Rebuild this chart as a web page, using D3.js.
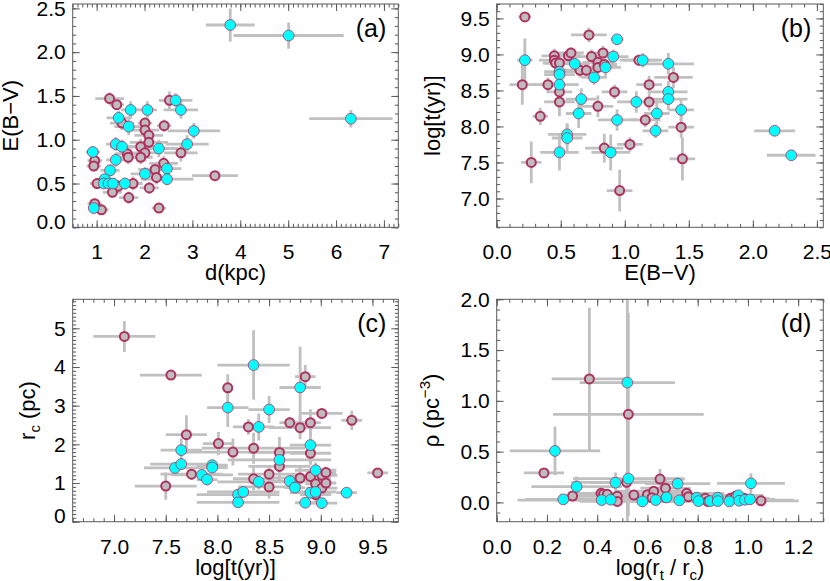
<!DOCTYPE html>
<html><head><meta charset="utf-8">
<script src="https://cdn.jsdelivr.net/npm/d3@7"></script>
<style>
body{margin:0;background:#fff}
svg text{font-family:"Liberation Sans",Arial,Helvetica,sans-serif;fill:#000}
</style>
</head><body>
<svg id="chart" width="830" height="581"></svg>
<script>
// ---------- DATA: [x, y, xErr, yErr] ----------
// (a) d(kpc) vs E(B-V)
const aOpen = [
 [1.27,1.47,0.30,0.07],[1.42,1.40,0.15,0.06],[2.52,1.45,0.20,0.10],[1.53,1.19,0.25,0.08],
 [2.01,1.19,0.15,0.06],[2.01,1.11,0.30,0.10],[2.41,1.16,0.15,0.07],[2.09,1.05,0.30,0.08],
 [2.09,0.97,0.40,0.10],[1.92,0.92,0.30,0.09],[2.01,0.85,0.30,0.10],[2.76,0.85,0.35,0.10],
 [1.64,0.84,0.25,0.10],[1.66,0.80,0.20,0.08],[1.92,0.80,0.25,0.08],[0.96,0.76,0.15,0.06],
 [0.94,0.70,0.15,0.06],[2.40,0.73,0.30,0.08],[2.22,0.66,0.35,0.08],[2.25,0.57,0.25,0.08],
 [1.01,0.50,0.15,0.06],[1.45,0.47,0.20,0.07],[1.33,0.40,0.20,0.06],[1.76,0.50,0.20,0.08],
 [2.10,0.45,0.20,0.07],[1.67,0.34,0.20,0.07],[0.96,0.27,0.15,0.06],[1.10,0.20,0.15,0.05],
 [2.30,0.22,0.15,0.04],[3.47,0.59,0.48,0.05]
];
const aFilled = [
 [3.79,2.31,0.51,0.19],[5.01,2.19,1.15,0.15],[6.31,1.24,0.87,0.10],[2.65,1.45,0.35,0.08],
 [2.76,1.34,0.36,0.10],[1.71,1.34,0.20,0.10],[2.06,1.34,0.20,0.10],[1.46,1.25,0.25,0.08],
 [1.67,1.15,0.30,0.10],[3.03,1.10,0.55,0.09],[1.40,0.95,0.20,0.08],[1.53,0.92,0.25,0.08],
 [2.30,0.90,0.40,0.10],[2.89,0.95,0.45,0.10],[0.92,0.86,0.15,0.06],[1.40,0.77,0.20,0.08],
 [2.47,0.67,0.30,0.08],[1.28,0.65,0.20,0.07],[2.01,0.61,0.30,0.08],[2.47,0.55,0.55,0.07],
 [1.17,0.55,0.15,0.06],[1.15,0.50,0.15,0.06],[1.25,0.50,0.15,0.06],[1.34,0.50,0.20,0.06],
 [1.59,0.50,0.25,0.07],[0.94,0.22,0.10,0.05]
];
// (b) E(B-V) vs log t
const bOpen = [
 [0.22,9.52,0.05,0.06],[0.72,9.27,0.14,0.10],[0.45,8.98,0.10,0.10],[0.45,8.92,0.12,0.10],
 [0.46,8.88,0.10,0.15],[0.49,8.88,0.12,0.10],[0.56,8.98,0.10,0.10],[0.58,9.02,0.10,0.08],
 [0.74,8.97,0.15,0.10],[0.83,9.02,0.12,0.10],[0.79,8.89,0.12,0.10],[0.79,8.82,0.12,0.10],
 [0.84,8.86,0.10,0.10],[0.65,8.78,0.12,0.10],[0.70,8.78,0.12,0.10],[1.11,8.92,0.15,0.08],
 [1.38,8.68,0.15,0.15],[0.20,8.58,0.10,0.28],[0.40,8.58,0.12,0.10],[0.49,8.48,0.10,0.15],
 [0.49,8.34,0.12,0.20],[0.92,8.48,0.10,0.10],[1.19,8.58,0.10,0.12],[1.19,8.34,0.12,0.12],
 [0.79,8.28,0.12,0.15],[0.34,8.14,0.06,0.12],[1.16,8.09,0.12,0.10],[1.44,7.99,0.10,0.15],
 [1.04,7.75,0.10,0.10],[0.84,7.70,0.15,0.20],[0.27,7.50,0.08,0.29],[1.45,7.55,0.10,0.30],
 [0.96,7.11,0.10,0.29]
];
const bFilled = [
 [0.94,9.21,0.05,0.05],[0.22,8.92,0.06,0.30],[0.61,8.87,0.12,0.10],[0.91,8.97,0.12,0.10],
 [0.85,8.82,0.12,0.12],[0.49,8.76,0.12,0.10],[0.49,8.72,0.12,0.10],[0.76,8.68,0.10,0.10],
 [1.14,8.92,0.15,0.10],[1.34,8.87,0.20,0.15],[0.49,8.58,0.15,0.20],[1.34,8.48,0.15,0.15],
 [1.34,8.38,0.15,0.15],[0.66,8.38,0.12,0.15],[1.09,8.34,0.15,0.15],[0.64,8.18,0.10,0.20],
 [1.25,8.18,0.10,0.20],[1.44,8.23,0.10,0.15],[0.94,8.09,0.15,0.15],[1.24,7.94,0.10,0.10],
 [0.55,7.89,0.15,0.15],[0.55,7.84,0.12,0.20],[0.89,7.64,0.15,0.25],[0.49,7.64,0.15,0.25],
 [2.17,7.94,0.16,0.07],[2.30,7.60,0.19,0.07]
];
// (c) log t vs r_c
const cOpen = [
 [7.10,4.79,0.30,0.40],[7.55,3.79,0.30,0.12],[8.85,3.75,0.10,0.30],[8.10,3.46,0.05,0.35],
 [9.01,2.80,0.20,0.10],[9.30,2.62,0.10,0.25],[8.70,2.56,0.10,0.15],[8.90,2.56,0.10,0.35],
 [8.80,2.43,0.30,0.30],[8.30,2.45,0.15,0.20],[7.70,2.25,0.20,0.50],[8.01,2.02,0.15,0.30],
 [8.35,1.90,0.50,0.40],[8.15,1.80,0.45,0.35],[8.60,1.79,0.30,0.40],[8.90,1.77,0.20,0.30],
 [8.60,1.43,0.30,0.35],[7.75,1.23,0.30,0.15],[8.50,1.23,0.30,0.20],[8.35,1.11,0.20,0.30],
 [8.50,0.90,0.30,0.30],[7.50,0.92,0.30,0.35],[8.80,1.13,0.30,0.30],[8.90,1.17,0.20,0.20],
 [9.01,1.20,0.15,0.15],[9.05,1.27,0.10,0.15],[8.95,0.98,0.10,0.15],[9.01,0.87,0.15,0.15],
 [9.05,1.00,0.10,0.10],[8.95,0.70,0.15,0.20],[9.55,1.26,0.10,0.10]
];
const cFilled = [
 [8.35,4.05,0.35,0.90],[8.80,3.47,0.20,1.05],[8.10,2.95,0.20,0.50],[8.50,2.90,0.20,0.35],
 [8.40,2.45,0.15,0.35],[8.90,1.98,0.20,0.50],[7.65,1.85,0.20,0.30],[8.60,1.60,0.50,0.30],
 [7.59,1.39,0.30,0.15],[7.65,1.49,0.30,0.15],[7.95,1.46,0.15,0.15],[7.95,1.40,0.15,0.15],
 [7.85,1.21,0.30,0.10],[7.90,1.09,0.10,0.15],[8.40,1.03,0.40,0.20],[8.70,1.05,0.20,0.20],
 [8.75,0.88,0.10,0.10],[8.95,1.33,0.20,0.20],[8.90,0.75,0.20,0.15],[8.95,0.77,0.20,0.15],
 [8.85,0.49,0.10,0.10],[9.01,0.48,0.15,0.10],[9.25,0.75,0.10,0.05],[8.20,0.70,0.40,0.15],
 [8.25,0.77,0.35,0.15],[8.20,0.50,0.40,0.10]
];
// (d) log(rt/rc) vs rho
const dOpen = [
 [0.369,1.216,0.15,0.70],[0.524,0.867,0.30,1.00],[0.188,0.290,0.08,0.05],[0.517,0.198,0.22,0.10],
 [0.650,0.230,0.10,0.10],[0.672,0.140,0.10,0.08],[0.302,0.063,0.05,0.03],[0.415,0.089,0.10,0.03],
 [0.425,0.082,0.10,0.03],[0.440,0.080,0.15,0.03],[0.480,0.060,0.20,0.03],[0.480,0.010,0.15,0.02],
 [0.546,0.072,0.20,0.03],[0.600,0.076,0.20,0.03],[0.625,0.110,0.15,0.04],[0.618,0.046,0.20,0.03],
 [0.674,0.046,0.20,0.03],[0.756,0.089,0.15,0.03],[0.763,0.056,0.15,0.03],[0.830,0.040,0.20,0.02],
 [0.840,0.010,0.20,0.02],[0.930,0.040,0.10,0.02],[0.950,0.060,0.10,0.02],[0.985,0.040,0.10,0.02],
 [1.052,0.016,0.15,0.02]
];
const dFilled = [
 [0.520,1.180,0.19,1.40],[0.232,0.507,0.18,0.24],[0.318,0.155,0.18,0.10],[0.524,0.234,0.22,0.07],
 [0.473,0.194,0.10,0.10],[0.720,0.185,0.13,0.06],[1.012,0.188,0.135,0.10],[0.265,0.030,0.15,0.02],
 [0.418,0.023,0.10,0.02],[0.454,0.026,0.10,0.02],[0.580,0.010,0.15,0.02],[0.633,0.023,0.55,0.02],
 [0.676,0.050,0.20,0.03],[0.727,0.020,0.15,0.02],[0.796,0.046,0.15,0.02],[0.803,0.013,0.20,0.02],
 [0.850,0.013,0.15,0.02],[0.880,0.046,0.15,0.02],[0.880,0.013,0.10,0.02],[0.926,0.010,0.10,0.02],
 [0.962,0.070,0.10,0.02],[0.965,0.016,0.10,0.02],[0.988,0.026,0.10,0.02],[1.008,0.030,0.10,0.02]
];
// tick labels
const aXTicks = [1,2,3,4,5,6,7];
const aYTicks = [0.0,0.5,1.0,1.5,2.0,2.5];
const bXTicks = [0.0,0.5,1.0,1.5,2.0,2.5];
const bYTicks = [7.0,7.5,8.0,8.5,9.0,9.5];
const cXTicks = [7.0,7.5,8.0,8.5,9.0,9.5];
const cYTicks = [0,1,2,3,4,5];
const dXTicks = [0.0,0.2,0.4,0.6,0.8,1.0,1.2];
const dYTicks = [0.0,0.5,1.0,1.5,2.0];

// ---------- STYLE ----------
const MAROON = "#b0305f", CYAN = "#00ffff", GRAYFILL = "#bdbdbd", ERR = "#c0c0c0", FRAME = "#5a5a5a";
const svg = d3.select("#chart");

const panels = [
 {id:"a", open:aOpen, filled:aFilled, box:[72.7,4,398.3,227.3], xd:[0.5,7.3], yd:[0,2.55],
  xt:aXTicks, yt:aYTicks, xm:0.1, ym:0.1, xf:d3.format("d"), yf:d3.format(".1f"), yOff:55, label:"(a)"},
 {id:"b", open:bOpen, filled:bFilled, box:[496.7,4,823.3,227.3], xd:[0,2.55], yd:[6.6,9.7],
  xt:bXTicks, yt:bYTicks, xm:0.1, ym:0.1, xf:d3.format(".1f"), yf:d3.format(".1f"), yOff:57, label:"(b)"},
 {id:"c", open:cOpen, filled:cFilled, box:[72.7,299.3,398.3,521.7], xd:[6.6,9.75], yd:[0,5.75],
  xt:cXTicks, yt:cYTicks, xm:0.1, ym:0.1, xf:d3.format(".1f"), yf:d3.format("d"), yOff:38, label:"(c)"},
 {id:"d", open:dOpen, filled:dFilled, box:[496.7,299.3,823.3,521.7], xd:[0,1.3], yd:[-0.19,2.0],
  xt:dXTicks, yt:dYTicks, xm:0.05, ym:0.1, xf:d3.format(".1f"), yf:d3.format(".1f"), yOff:58, label:"(d)"}
];

function minorTicks(dom, step){
  const i0 = Math.ceil(dom[0]/step - 1e-9), i1 = Math.floor(dom[1]/step + 1e-9);
  return d3.range(i0, i1+1).map(i => +(i*step).toFixed(6));
}

panels.forEach(p => {
  const [x0,y0,x1,y1] = p.box;
  const x = d3.scaleLinear().domain(p.xd).range([x0,x1]);
  const y = d3.scaleLinear().domain(p.yd).range([y1,y0]);
  const g = svg.append("g").attr("class","panel-"+p.id);

  svg.append("clipPath").attr("id","clip-"+p.id)
    .append("rect").attr("x",x0).attr("y",y0).attr("width",x1-x0).attr("height",y1-y0);

  const all = p.open.map(d=>({d,f:false})).concat(p.filled.map(d=>({d,f:true})));
  const eg = g.append("g").attr("clip-path","url(#clip-"+p.id+")")
    .attr("stroke",ERR).attr("stroke-width",2.8);
  eg.selectAll("line.ex").data(all).join("line").attr("class","ex")
    .attr("x1",e=>x(e.d[0]-e.d[2])).attr("x2",e=>x(e.d[0]+e.d[2]))
    .attr("y1",e=>y(e.d[1])).attr("y2",e=>y(e.d[1]));
  eg.selectAll("line.ey").data(all).join("line").attr("class","ey")
    .attr("x1",e=>x(e.d[0])).attr("x2",e=>x(e.d[0]))
    .attr("y1",e=>y(e.d[1]-e.d[3])).attr("y2",e=>y(e.d[1]+e.d[3]));

  g.append("g").selectAll("circle").data(p.open).join("circle")
    .attr("cx",d=>x(d[0])).attr("cy",d=>y(d[1])).attr("r",4.5)
    .attr("fill",GRAYFILL).attr("stroke",MAROON).attr("stroke-width",2);
  g.append("g").selectAll("circle").data(p.filled).join("circle")
    .attr("cx",d=>x(d[0])).attr("cy",d=>y(d[1])).attr("r",5.4)
    .attr("fill",CYAN).attr("stroke",MAROON).attr("stroke-width",0.8);

  // frame
  g.append("rect").attr("x",x0).attr("y",y0).attr("width",x1-x0).attr("height",y1-y0)
    .attr("fill","none").attr("stroke",FRAME).attr("stroke-width",1);

  const styleAxis = sel => { sel.select(".domain").remove();
    sel.selectAll(".tick line").attr("stroke",FRAME); };
  const xMin = minorTicks(p.xd, p.xm), yMin = minorTicks(p.yd, p.ym);
  // minor ticks (all four sides)
  g.append("g").attr("transform",`translate(0,${y1})`).call(d3.axisBottom(x).tickValues(xMin).tickSize(-3.5).tickFormat("")).call(styleAxis);
  g.append("g").attr("transform",`translate(0,${y0})`).call(d3.axisTop(x).tickValues(xMin).tickSize(-3.5).tickFormat("")).call(styleAxis);
  g.append("g").attr("transform",`translate(${x0},0)`).call(d3.axisLeft(y).tickValues(yMin).tickSize(-3.5).tickFormat("")).call(styleAxis);
  g.append("g").attr("transform",`translate(${x1},0)`).call(d3.axisRight(y).tickValues(yMin).tickSize(-3.5).tickFormat("")).call(styleAxis);
  // major ticks
  const bx = g.append("g").attr("transform",`translate(0,${y1})`)
    .call(d3.axisBottom(x).tickValues(p.xt).tickSize(-7).tickPadding(17).tickFormat(p.xf)).call(styleAxis);
  g.append("g").attr("transform",`translate(0,${y0})`).call(d3.axisTop(x).tickValues(p.xt).tickSize(-7).tickFormat("")).call(styleAxis);
  const ly = g.append("g").attr("transform",`translate(${x0},0)`)
    .call(d3.axisLeft(y).tickValues(p.yt).tickSize(-7).tickPadding(7).tickFormat(p.yf)).call(styleAxis);
  g.append("g").attr("transform",`translate(${x1},0)`).call(d3.axisRight(y).tickValues(p.yt).tickSize(-7).tickFormat("")).call(styleAxis);
  [bx,ly].forEach(a => a.selectAll(".tick text").attr("font-size",21)
     .attr("font-family",'"Liberation Sans",Arial,sans-serif').attr("fill","#000"));
  ly.selectAll(".tick text").filter(v => Math.abs(v - p.yd[0]) < 1e-9).attr("y",-6);

  // panel label
  g.append("text").attr("x",x1-12).attr("y",y0+33).attr("text-anchor","end")
    .attr("font-size",25).text(p.label);

  // axis titles
  const xt = g.append("text").attr("x",(x0+x1)/2).attr("y",y1+53).attr("text-anchor","middle").attr("font-size",22);
  const yt = g.append("text").attr("transform",`translate(${x0-p.yOff},${(y0+y1)/2}) rotate(-90)`)
    .attr("text-anchor","middle").attr("font-size",22);
  p.xtEl = xt; p.ytEl = yt;
});

// titles with sub/superscripts
const [pa,pb,pc,pd] = panels;
pa.xtEl.text("d(kpc)");
pa.ytEl.text("E(B\u2212V)");
pb.xtEl.text("E(B\u2212V)");
pb.ytEl.text("log[t(yr)]");
pc.xtEl.text("log[t(yr)]");
pc.ytEl.append("tspan").text("r");
pc.ytEl.append("tspan").attr("dy",5).attr("font-size",15).text("c");
pc.ytEl.append("tspan").attr("dy",-5).text(" (pc)");
pd.ytEl.append("tspan").text("\u03c1 (pc");
pd.ytEl.append("tspan").attr("dy",-9).attr("font-size",15).text("\u22123");
pd.ytEl.append("tspan").attr("dy",9).text(")");
pd.xtEl.append("tspan").text("log(r");
pd.xtEl.append("tspan").attr("dy",5).attr("font-size",15).text("t");
pd.xtEl.append("tspan").attr("dy",-5).text(" / r");
pd.xtEl.append("tspan").attr("dy",5).attr("font-size",15).text("c");
pd.xtEl.append("tspan").attr("dy",-5).text(")");
</script>
</body></html>
